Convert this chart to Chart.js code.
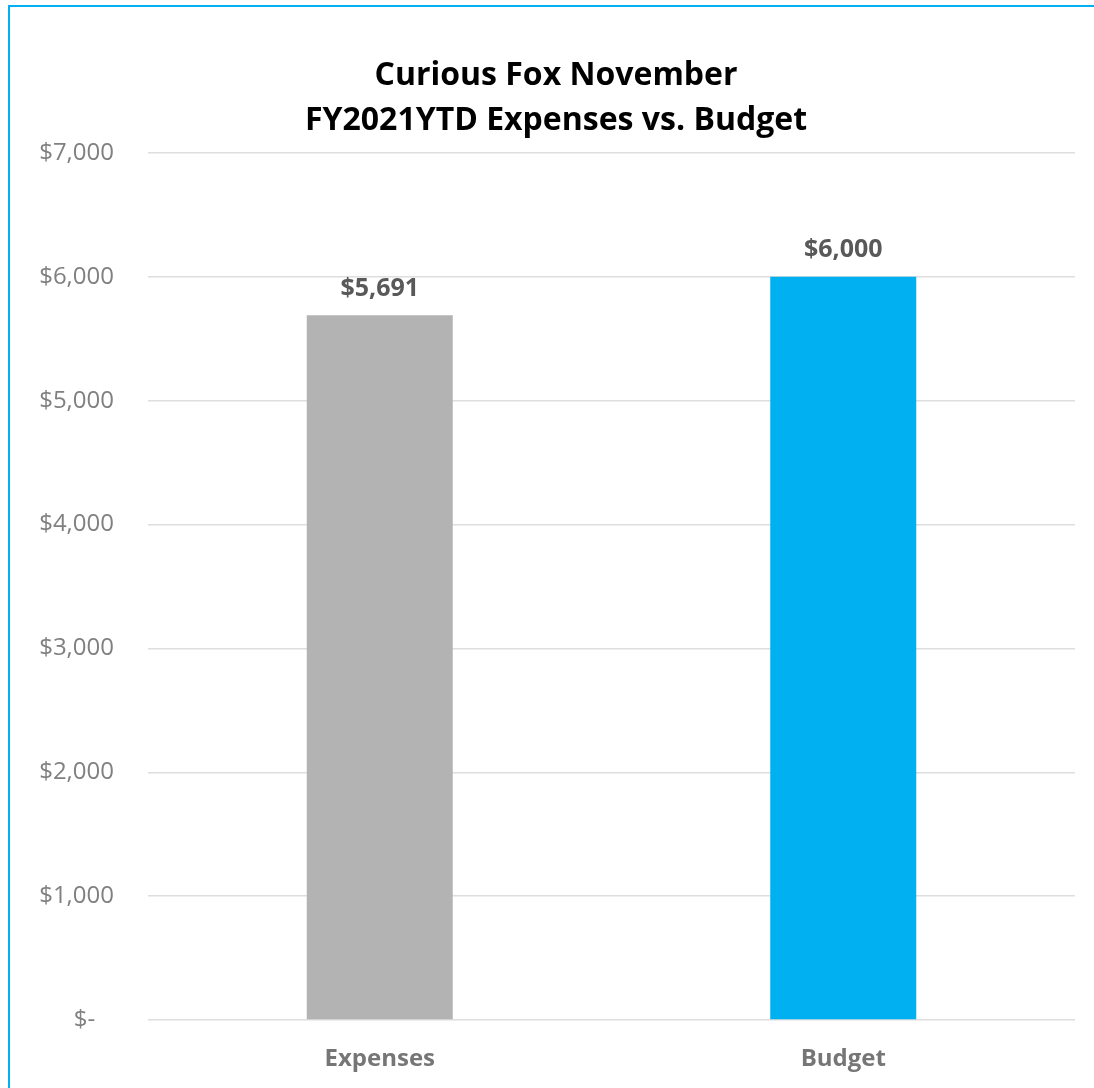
<!DOCTYPE html>
<html>
<head>
<meta charset="utf-8">
<script src="https://cdn.jsdelivr.net/npm/chart.js@4.4.0/dist/chart.umd.min.js"></script>
<style>
  html, body { margin: 0; padding: 0; background: #fff; overflow: hidden; }
  #wrap { position: relative; width: 1094px; height: 1088px; }
  #frame {
    position: absolute; left: 8px; top: 5px; width: 1200px; height: 1200px;
    border-left: 2px solid #00b0f0; border-top: 2px solid #00b0f0;
    pointer-events: none;
  }
  canvas { position: absolute; left: 0; top: 0; }
</style>
</head>
<body>
<div id="wrap">
  <canvas id="js-bar-chart" width="1094" height="1088"></canvas>
  <div id="frame"></div>
</div>
<script>
// Chart data
const categories = ['Expenses', 'Budget'];
const amounts = [5691, 6000];
const barColors = ['#b3b3b3', '#00b0f0'];
const titleLines = ['Curious Fox November', 'FY2021YTD Expenses vs. Budget'];

const fontFamily = '"Open Sans", Lato, sans-serif';

const money = (v) => '$' + v.toLocaleString('en-US');

// Two-line title, centred a bit right of the canvas middle
const chartTitle = {
  id: 'chartTitle',
  afterDraw(chart) {
    const ctx = chart.ctx;
    ctx.save();
    ctx.font = 'bold 32px ' + fontFamily;
    ctx.fillStyle = '#000';
    ctx.textAlign = 'center';
    ctx.textBaseline = 'middle';
    titleLines.forEach((line, i) => {
      ctx.fillText(line, 556, 76 + i * 45);
    });
    ctx.restore();
  },
};

// Draws the value above each bar
const valueLabels = {
  id: 'valueLabels',
  afterDatasetsDraw(chart) {
    const ctx = chart.ctx;
    const meta = chart.getDatasetMeta(0);
    ctx.save();
    ctx.font = 'bold 25px ' + fontFamily;
    ctx.fillStyle = '#595959';
    ctx.textAlign = 'center';
    ctx.textBaseline = 'bottom';
    meta.data.forEach((bar, i) => {
      ctx.fillText(money(amounts[i]), bar.x, bar.y - 14);
    });
    ctx.restore();
  },
};

const barContext = document.getElementById('js-bar-chart').getContext('2d');

const newBarChart = new Chart(barContext, {
  type: 'bar',
  data: {
    labels: categories,
    datasets: [
      {
        data: amounts,
        backgroundColor: barColors,
        borderWidth: 0,
        categoryPercentage: 1,
        barPercentage: 0.315,
      },
    ],
  },
  options: {
    responsive: false,
    animation: false,
    layout: { padding: { top: 153, right: 19, bottom: 0, left: 0 } },
    plugins: {
      legend: { display: false },
      tooltip: { enabled: false },
      title: { display: false },
    },
    scales: {
      x: {
        grid: { display: false },
        border: { display: false },
        ticks: {
          color: '#767676',
          padding: 17,
          font: { family: fontFamily, size: 24, weight: 'bold' },
        },
        afterFit(scale) {
          scale.height = 68;
        },
      },
      y: {
        min: 0,
        max: 7000,
        border: { display: false },
        grid: { color: '#dedede', lineWidth: 1.5, drawTicks: false },
        ticks: {
          stepSize: 1000,
          color: '#808080',
          padding: 34,
          font: { family: fontFamily, size: 24 },
          callback: function (value) {
            return value === 0 ? '$-   ' : money(value);
          },
        },
        afterFit(scale) {
          scale.width = 148;
        },
      },
    },
  },
  plugins: [valueLabels, chartTitle],
});
</script>
</body>
</html>
